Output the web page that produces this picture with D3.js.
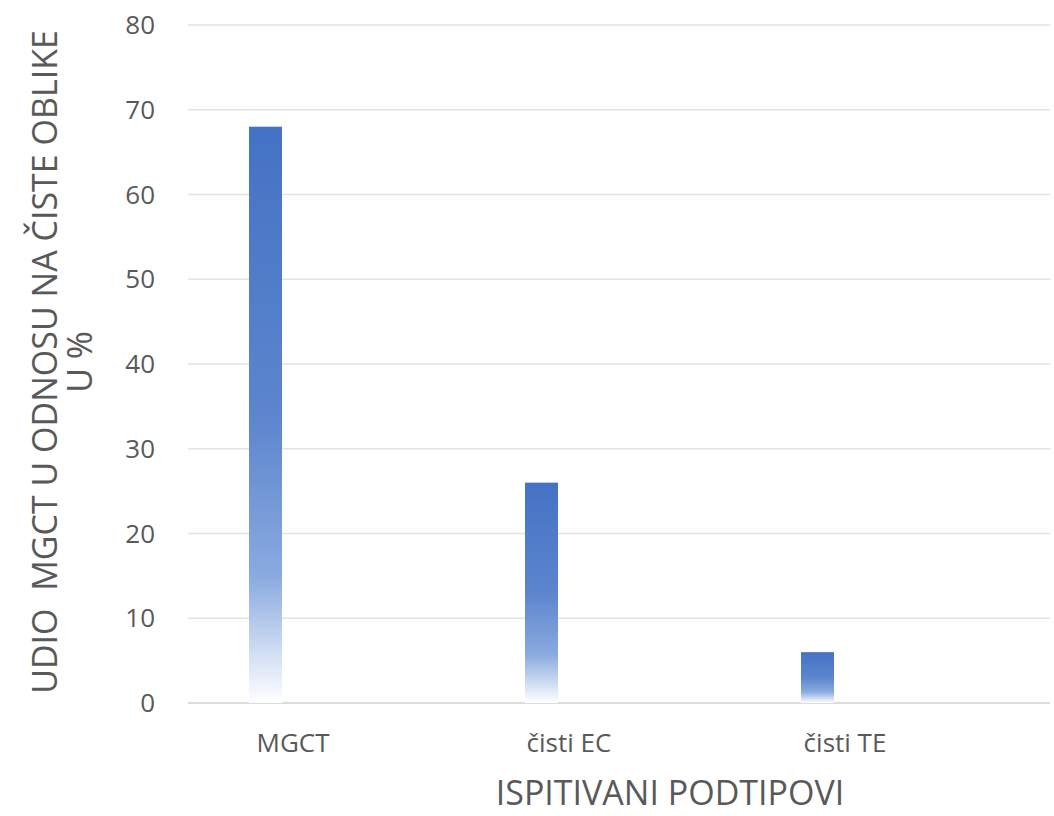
<!DOCTYPE html>
<html>
<head>
<meta charset="utf-8">
<script src="https://cdn.jsdelivr.net/npm/d3@7"></script>
<style>
  body { margin: 0; background: #fff; }
  text { font-family: "Open Sans", "Noto Sans", sans-serif; fill: #595959; }
</style>
</head>
<body>
<div id="chart"></div>
<script>
var categories = ["MGCT", "čisti EC", "čisti TE"];
var values = [68, 26, 6];
var yTicks = [0, 10, 20, 30, 40, 50, 60, 70, 80];

var svg = d3.select("#chart").append("svg")
    .attr("width", 1054)
    .attr("height", 816);

var plotLeft = 188, plotRight = 1050, plotTop = 25, plotBottom = 703;

var x = d3.scaleBand()
    .domain(categories)
    .range([155, 983]);

var y = d3.scaleLinear()
    .domain([0, 80])
    .range([plotBottom, plotTop]);

// gradient used by the bars
var grad = svg.append("defs").append("linearGradient")
    .attr("id", "barFill")
    .attr("x1", 0).attr("y1", 0).attr("x2", 0).attr("y2", 1);
grad.append("stop").attr("offset", "0%").attr("stop-color", "#4472c4");
grad.append("stop").attr("offset", "50%").attr("stop-color", "#5c85cd");
grad.append("stop").attr("offset", "78%").attr("stop-color", "#8aaae0");
grad.append("stop").attr("offset", "100%").attr("stop-color", "#ffffff");

// gridlines
svg.append("g")
    .selectAll("line")
    .data(yTicks)
    .enter().append("line")
    .attr("x1", plotLeft)
    .attr("x2", plotRight)
    .attr("y1", d => y(d))
    .attr("y2", d => y(d))
    .attr("stroke", d => d === 0 ? "#d0d0d0" : "#e3e3e3")
    .attr("stroke-width", 1.5);

// y tick labels
svg.append("g")
    .selectAll("text")
    .data(yTicks)
    .enter().append("text")
    .attr("x", 155)
    .attr("y", d => y(d))
    .attr("dy", "0.35em")
    .attr("text-anchor", "end")
    .style("font-size", "26px")
    .text(d => d);

// bars
var barW = 33;
svg.append("g")
    .selectAll("rect")
    .data(values)
    .enter().append("rect")
    .attr("x", (d, i) => x(categories[i]) + x.bandwidth() / 2 - 44)
    .attr("y", d => y(d))
    .attr("width", barW)
    .attr("height", d => y(0) - y(d))
    .attr("fill", "url(#barFill)");

// x labels
svg.append("g")
    .selectAll("text")
    .data(categories)
    .enter().append("text")
    .attr("x", d => x(d) + x.bandwidth() / 2)
    .attr("y", 752)
    .attr("text-anchor", "middle")
    .style("font-size", "26px")
    .text(d => d);

// axis titles
svg.append("text")
    .attr("x", 670)
    .attr("y", 805)
    .attr("text-anchor", "middle")
    .style("font-size", "34px")
    .text("ISPITIVANI PODTIPOVI");

var yTitle = svg.append("text")
    .attr("transform", "translate(0,362) rotate(-90)")
    .attr("text-anchor", "middle")
    .style("font-size", "34px");
yTitle.append("tspan").attr("x", 0).attr("y", 57).attr("xml:space", "preserve").text("UDIO  MGCT U ODNOSU NA ČISTE OBLIKE");
yTitle.append("tspan").attr("x", 0).attr("y", 92).text("U %");
</script>
</body>
</html>
